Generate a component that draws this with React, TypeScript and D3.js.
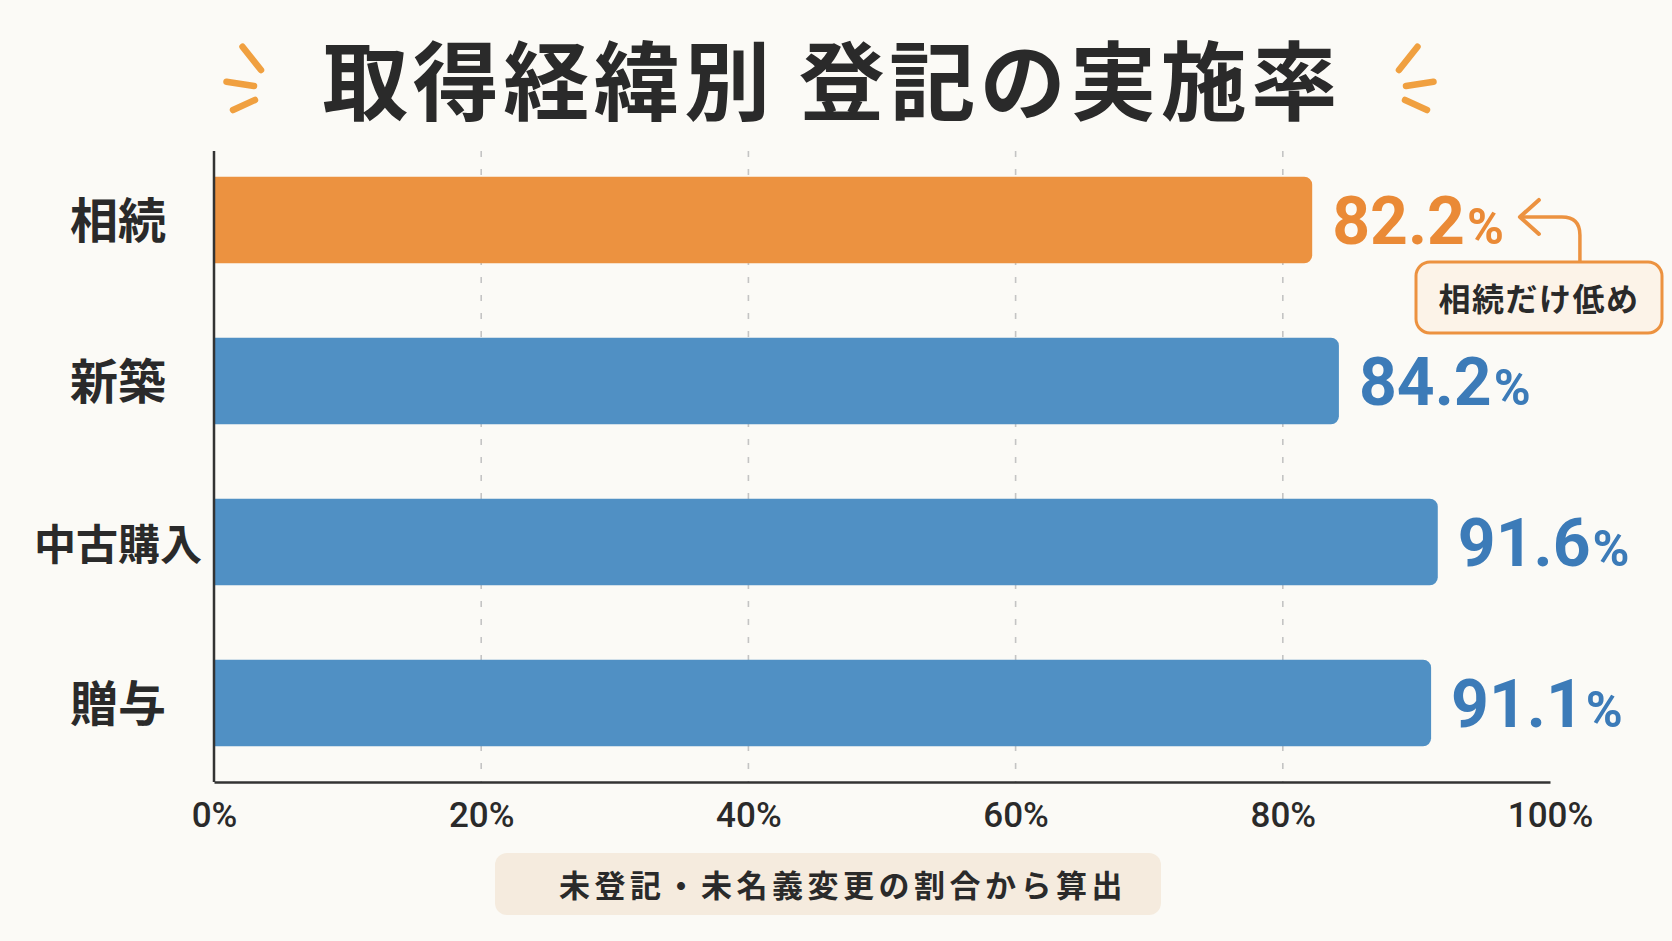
import { useEffect, useRef } from 'react';
import * as d3 from 'd3';

// data
const categories = ['相続', '新築', '中古購入', '贈与'];
const rates = [82.2, 84.2, 91.6, 91.1];
const highlighted = ['相続'];
const xTicks = [0, 20, 40, 60, 80, 100];
const gridTicks = [20, 40, 60, 80];
const titleText = '取得経緯別 登記の実施率';
const calloutText = '相続だけ低め';
const noteText = '未登記・未名義変更の割合から算出';

const W = 1672;
const H = 941;
const BG = '#fbfaf6';
const INK = '#2a2a2a';
const ORANGE = '#ec9240';
const ORANGE_TEXT = '#ea8a36';
const BLUE = '#5090c4';
const BLUE_TEXT = '#3c7bb8';
const JP = '"Noto Sans CJK JP", "Noto Sans", sans-serif';
const NUM = 'Roboto, "Noto Sans", sans-serif';

export default function App() {
  const svgRef = useRef<SVGSVGElement>(null);

  useEffect(() => {
    document.body.style.margin = '0';
    document.body.style.background = BG;
    if (!svgRef.current) return;

    const svg = d3.select(svgRef.current);
    svg.selectAll('*').remove();
    svg.attr('width', W).attr('height', H);

    svg.append('rect').attr('width', W).attr('height', H).attr('fill', BG);

    const plot = { left: 214, right: 1550, top: 151, bottom: 782 };

    const x = d3.scaleLinear().domain([0, 100]).range([plot.left, plot.right]);
    const y = d3.scaleBand<string>()
      .domain(categories)
      .range([plot.top, 772])
      .paddingInner(0.463)
      .paddingOuter(0.16);
    const bw = y.bandwidth();

    // Title
    svg.append('text')
      .attr('x', 832)
      .attr('y', 114)
      .attr('text-anchor', 'middle')
      .attr('font-family', JP)
      .attr('font-size', 86)
      .attr('font-weight', 700)
      .attr('letter-spacing', 4.5)
      .attr('fill', INK)
      .text(titleText);

    // little orange sparks both sides of the title
    const sparks = [
      [242.5, 46.7, 261, 70],
      [226.5, 81.7, 254, 86],
      [233, 110, 255, 100],
    ];
    const sparkG = svg.append('g')
      .attr('stroke', '#f0a040')
      .attr('stroke-width', 6.5)
      .attr('stroke-linecap', 'round');
    sparks.forEach(([x1, y1, x2, y2]) => {
      sparkG.append('line').attr('x1', x1).attr('y1', y1).attr('x2', x2).attr('y2', y2);
      sparkG.append('line').attr('x1', 1660 - x1).attr('y1', y1).attr('x2', 1660 - x2).attr('y2', y2);
    });

    // Grid lines
    svg.append('g')
      .selectAll('line')
      .data(gridTicks)
      .join('line')
      .attr('x1', d => x(d))
      .attr('x2', d => x(d))
      .attr('y1', plot.top)
      .attr('y2', plot.bottom)
      .attr('stroke', '#c4c4c4')
      .attr('stroke-width', 1.6)
      .attr('stroke-dasharray', '6 12');

    // Bars (square on the axis side, rounded on the right)
    const r = 8;
    const barPath = (v: number, c: string) => {
      const x0 = x(0);
      const x1 = x(v);
      const y0 = y(c)!;
      return `M${x0},${y0}H${x1 - r}A${r},${r} 0 0 1 ${x1},${y0 + r}V${y0 + bw - r}A${r},${r} 0 0 1 ${x1 - r},${y0 + bw}H${x0}Z`;
    };
    svg.append('g')
      .selectAll('path')
      .data(categories)
      .join('path')
      .attr('d', (c, i) => barPath(rates[i], c))
      .attr('fill', c => (highlighted.includes(c) ? ORANGE : BLUE));

    // Value labels
    const labels = svg.append('g')
      .selectAll('text')
      .data(categories)
      .join('text')
      .attr('x', (c, i) => x(rates[i]) + 20)
      .attr('y', c => y(c)! + bw / 2 + 24)
      .attr('font-family', NUM)
      .attr('font-weight', 700)
      .attr('fill', c => (highlighted.includes(c) ? ORANGE_TEXT : BLUE_TEXT));
    labels.append('tspan')
      .attr('font-size', 66)
      .text((c, i) => rates[i].toFixed(1));
    labels.append('tspan')
      .attr('font-size', 50)
      .attr('dx', 2)
      .text('%');

    // Category labels
    svg.append('g')
      .selectAll('text')
      .data(categories)
      .join('text')
      .attr('x', 118)
      .attr('y', c => y(c)! + bw / 2 + 18)
      .attr('text-anchor', 'middle')
      .attr('font-family', JP)
      .attr('font-size', c => Math.min(48, 168 / c.length))
      .attr('font-weight', 700)
      .attr('fill', INK)
      .text(c => c);

    // Axes
    svg.append('line')
      .attr('x1', plot.left)
      .attr('x2', plot.left)
      .attr('y1', plot.top)
      .attr('y2', plot.bottom)
      .attr('stroke', '#333')
      .attr('stroke-width', 2.5);

    const xAxis = svg.append('g')
      .attr('transform', `translate(0,${plot.bottom})`)
      .call(d3.axisBottom(x)
        .tickValues(xTicks)
        .tickSize(0)
        .tickPadding(20)
        .tickFormat(d => `${d}%`));
    xAxis.select('.domain')
      .attr('stroke', '#333')
      .attr('stroke-width', 2.5);
    xAxis.selectAll('text')
      .attr('font-family', NUM)
      .attr('font-size', 35)
      .attr('font-weight', 500)
      .attr('fill', INK);

    // Callout for the highlighted bar
    const hi = categories.findIndex(c => highlighted.includes(c));
    const hiNode = labels.nodes()[hi] as SVGTextElement;
    const hb = hiNode.getBBox();
    const ay = y(categories[hi])! + bw / 2 - 3;
    const tip = hb.x + hb.width + 16;
    const boxW = 246;
    const boxH = 71;
    const boxTop = 262;
    let downX = tip + 60;
    const boxX = Math.min(downX - 111, W - 10 - boxW);
    downX = Math.min(downX, boxX + boxW - 30);
    const cr = 18;

    svg.append('path')
      .attr('d', `M${tip},${ay}H${downX - cr}Q${downX},${ay} ${downX},${ay + cr}V${boxTop}`)
      .attr('fill', 'none')
      .attr('stroke', ORANGE)
      .attr('stroke-width', 3.5);
    svg.append('path')
      .attr('d', `M${tip + 19},${ay - 17}L${tip},${ay}L${tip + 19},${ay + 17}`)
      .attr('fill', 'none')
      .attr('stroke', ORANGE)
      .attr('stroke-width', 4)
      .attr('stroke-linecap', 'round')
      .attr('stroke-linejoin', 'round');

    svg.append('rect')
      .attr('x', boxX)
      .attr('y', boxTop)
      .attr('width', boxW)
      .attr('height', boxH)
      .attr('rx', 14)
      .attr('fill', '#fcf3e8')
      .attr('stroke', ORANGE)
      .attr('stroke-width', 3);
    svg.append('text')
      .attr('x', boxX + boxW / 2)
      .attr('y', boxTop + 49)
      .attr('text-anchor', 'middle')
      .attr('font-family', JP)
      .attr('font-size', 32)
      .attr('font-weight', 700)
      .attr('letter-spacing', 1.5)
      .attr('fill', INK)
      .text(calloutText);

    // Footnote
    svg.append('rect')
      .attr('x', 495)
      .attr('y', 853)
      .attr('width', 666)
      .attr('height', 62)
      .attr('rx', 12)
      .attr('fill', '#f5ebde');
    svg.append('text')
      .attr('x', 843)
      .attr('y', 897)
      .attr('text-anchor', 'middle')
      .attr('font-family', JP)
      .attr('font-size', 31)
      .attr('font-weight', 600)
      .attr('letter-spacing', 4.5)
      .attr('fill', INK)
      .text(noteText);
  }, []);

  return <svg ref={svgRef} style={{ display: 'block' }} />;
}
